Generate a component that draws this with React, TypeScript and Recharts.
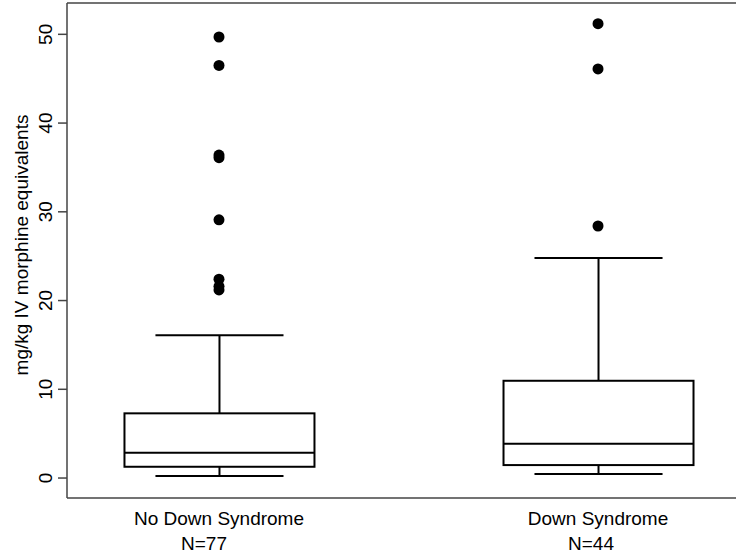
import { Bar, ComposedChart, ReferenceLine, Scatter, XAxis, YAxis } from "recharts";

const groups = ["No Down Syndrome", "Down Syndrome"];
const counts = ["N=77", "N=44"];
const lowerWhisker = [0.23, 0.45];
const q1 = [1.27, 1.46];
const median = [2.85, 3.87];
const q3 = [7.29, 10.96];
const upperWhisker = [16.1, 24.8];
const outliersNoDS = [49.7, 46.5, 36.4, 36.1, 29.1, 22.4, 21.6, 21.2];
const outliersDS = [51.2, 46.1, 28.4];
const yTicks = [0, 10, 20, 30, 40, 50];

const Y_MIN = -2.25;
const Y_MAX = 53.53;
const font = "'Liberation Sans', Arial, Helvetica, sans-serif";

const boxData = groups.map((name, i) => ({
  pos: i + 1,
  name,
  n: counts[i],
  lo: lowerWhisker[i],
  q1: q1[i],
  median: median[i],
  q3: q3[i],
  hi: upperWhisker[i],
  range: [lowerWhisker[i], upperWhisker[i]],
}));

const outlierData = [
  ...outliersNoDS.map((value) => ({ pos: 1, value })),
  ...outliersDS.map((value) => ({ pos: 2, value })),
];

// draws whiskers, box and median from the bar's [lo, hi] extent
function BoxShape(props: any) {
  const { x, y, width, height, payload } = props;
  const { lo, hi } = payload;
  const py = (v: number) => y + ((hi - v) / (hi - lo)) * height;
  const cx = x + width / 2;
  const cap = width * 0.337;
  const stroke = "#000";
  const sw = 2;
  return (
    <g>
      <line x1={cx} x2={cx} y1={py(hi)} y2={py(payload.q3)} stroke={stroke} strokeWidth={sw} />
      <line x1={cx} x2={cx} y1={py(payload.q1)} y2={py(lo)} stroke={stroke} strokeWidth={sw} />
      <line x1={cx - cap} x2={cx + cap} y1={py(hi)} y2={py(hi)} stroke={stroke} strokeWidth={sw} />
      <line x1={cx - cap} x2={cx + cap} y1={py(lo)} y2={py(lo)} stroke={stroke} strokeWidth={sw} />
      <rect
        x={x}
        y={py(payload.q3)}
        width={width}
        height={py(payload.q1) - py(payload.q3)}
        fill="#fff"
        stroke={stroke}
        strokeWidth={sw}
      />
      <line x1={x} x2={x + width} y1={py(payload.median)} y2={py(payload.median)} stroke={stroke} strokeWidth={sw} />
    </g>
  );
}

function Dot(props: any) {
  const { cx, cy } = props;
  return <circle cx={cx} cy={cy} r={5.5} fill="#000" />;
}

function YTick(props: any) {
  const { x, y, payload } = props;
  return (
    <text
      transform={`translate(${x - 4},${y}) rotate(-90)`}
      textAnchor="middle"
      fontSize={19}
      fontFamily={font}
      fill="#000"
    >
      {payload.value}
    </text>
  );
}

function XTick(props: any) {
  const { x, y, payload } = props;
  const i = payload.value - 1;
  const shift = [-15, -7][i] ?? 0;
  return (
    <g>
      <text x={x} y={y + 27} textAnchor="middle" fontSize={19} fontFamily={font} fill="#000">
        {groups[i]}
      </text>
      <text x={x + shift} y={y + 52} textAnchor="middle" fontSize={19} fontFamily={font} fill="#000">
        {counts[i]}
      </text>
    </g>
  );
}

function YTitle() {
  return (
    <text
      transform="translate(28,245) rotate(-90)"
      textAnchor="middle"
      fontSize={19}
      fontFamily={font}
      fill="#000"
    >
      mg/kg IV morphine equivalents
    </text>
  );
}

export default function App() {
  return (
    <div style={{ position: "absolute", left: 0, top: 0, background: "#fff" }}>
      <ComposedChart
        width={736}
        height={554}
        data={boxData}
        margin={{ top: 3, right: 0, bottom: 0, left: 0 }}
      >
        <XAxis
          dataKey="pos"
          type="number"
          domain={[0.599, 2.364]}
          allowDataOverflow
          ticks={[1, 2]}
          tick={<XTick />}
          tickLine={false}
          tickSize={0}
          tickMargin={0}
          height={56}
          axisLine={{ stroke: "#444", strokeWidth: 1.5 }}
        />
        <YAxis
          type="number"
          domain={[Y_MIN, Y_MAX]}
          allowDataOverflow
          ticks={yTicks}
          width={67}
          tickSize={9}
          tickMargin={2}
          tick={<YTick />}
          tickLine={{ stroke: "#444", strokeWidth: 1.5 }}
          axisLine={{ stroke: "#444", strokeWidth: 1.5 }}
          label={{ content: () => <YTitle /> }}
        />
        <ReferenceLine y={Y_MAX} stroke="#444" strokeWidth={1.5} />
        <Bar dataKey="range" barSize={190} shape={<BoxShape />} isAnimationActive={false} />
        <Scatter data={outlierData} dataKey="value" shape={<Dot />} isAnimationActive={false} />
      </ComposedChart>
    </div>
  );
}
